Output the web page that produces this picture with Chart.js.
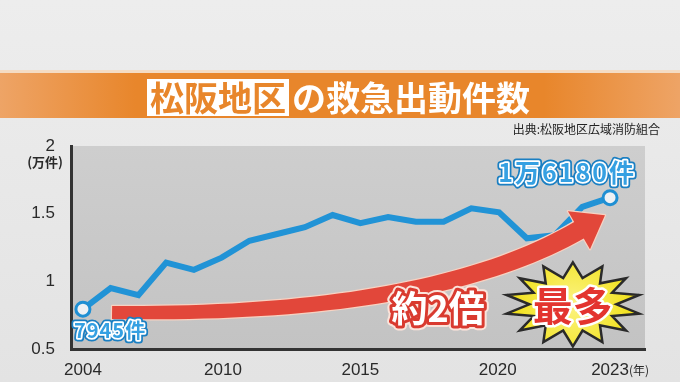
<!DOCTYPE html>
<html>
<head>
<meta charset="utf-8">
<script src="https://cdn.jsdelivr.net/npm/chart.js@4"></script>
<style>
  html, body { margin: 0; padding: 0; background: #e6e6e6; }
  canvas { display: block; }
</style>
</head>
<body>
<canvas id="chart" width="680" height="382"></canvas>
<script>
/* 松阪地区の救急出動件数 — line chart with TV-style decorations */

const YEARS = [2004, 2005, 2006, 2007, 2008, 2009, 2010, 2011, 2012, 2013,
               2014, 2015, 2016, 2017, 2018, 2019, 2020, 2021, 2022, 2023];
// 万件
const CALLS = [0.7945, 0.95, 0.898, 1.138, 1.085, 1.175, 1.30, 1.35, 1.40, 1.49,
               1.43, 1.475, 1.44, 1.44, 1.54, 1.51, 1.318, 1.34, 1.55, 1.618];
const Y_TICKS = [0.5, 1, 1.5, 2];
const X_TICK_LABELS = ['2004', '2010', '2015', '2020', '2023'];
const X_TICK_AT     = [2004, 2009.05, 2014, 2018.95, 2023];   // where the labels sit in the graphic
const FIRST_LABEL = '7945件';
const LAST_LABEL  = '1万6180件';

const JP = '"Noto Sans CJK JP", sans-serif';
const BLUE = '#2193d6';

function outlined(ctx, text, x, y, strokes, fill) {
  strokes.forEach(([c, w]) => { ctx.strokeStyle = c; ctx.lineWidth = w; ctx.strokeText(text, x, y); });
  ctx.fillStyle = fill; ctx.fillText(text, x, y);
}

const decor = {
  id: 'decor',
  beforeDraw(chart) {
    const { ctx, chartArea: a, width, height } = chart;
    ctx.save();
    // page background
    let g = ctx.createLinearGradient(0, 0, 0, height);
    g.addColorStop(0, '#ededed'); g.addColorStop(1, '#e3e3e3');
    ctx.fillStyle = g; ctx.fillRect(0, 0, width, height);

    // title band
    ctx.fillStyle = '#f4dcc4'; ctx.fillRect(0, 70, width, 3);
    g = ctx.createLinearGradient(0, 0, width, 0);
    g.addColorStop(0, '#eea466'); g.addColorStop(0.2, '#e8862b');
    g.addColorStop(0.8, '#e8862b'); g.addColorStop(1, '#eea466');
    ctx.fillStyle = g; ctx.fillRect(0, 73, width, 45);

    ctx.font = 'bold 34px ' + JP;
    ctx.textBaseline = 'middle'; ctx.textAlign = 'left';
    const t1 = '松阪地区', t2 = 'の救急出動件数';
    const w1 = ctx.measureText(t1).width, w2 = ctx.measureText(t2).width;
    const x0 = width / 2 - (w1 + 6 + w2) / 2;
    ctx.fillStyle = '#fff'; ctx.fillRect(x0 - 3, 79, w1 + 6, 37);
    ctx.fillStyle = '#e8862b'; ctx.fillText(t1, x0, 98);
    ctx.fillStyle = '#fff'; ctx.fillText(t2, x0 + w1 + 6, 98);

    // source
    ctx.font = '12px ' + JP; ctx.fillStyle = '#222'; ctx.textAlign = 'right';
    ctx.fillText('出典:松阪地区広域消防組合', 660, 129);

    // plot panel
    g = ctx.createLinearGradient(0, a.top, 0, a.bottom);
    g.addColorStop(0, '#cecece'); g.addColorStop(1, '#c3c3c3');
    ctx.fillStyle = g; ctx.fillRect(a.left, a.top, a.right - a.left, a.bottom - a.top);
    ctx.restore();
  },
  afterDatasetsDraw(chart) {
    const { ctx, scales: { x, y } } = chart;
    const px = (yr, v) => [x.getPixelForValue(yr), y.getPixelForValue(v)];
    ctx.save();

    // curved red arrow
    const P0 = px(2005.05, 0.77), C = px(2016.5, 0.74), P2 = px(2021.88, 1.378);
    const left = [], right = [], N = 40;
    for (let i = 0; i <= N; i++) {
      const t = i / N, u = 1 - t;
      const bx = u*u*P0[0] + 2*u*t*C[0] + t*t*P2[0];
      const by = u*u*P0[1] + 2*u*t*C[1] + t*t*P2[1];
      let dx = 2*u*(C[0]-P0[0]) + 2*t*(P2[0]-C[0]);
      let dy = 2*u*(C[1]-P0[1]) + 2*t*(P2[1]-C[1]);
      const len = Math.hypot(dx, dy); dx /= len; dy /= len;
      const hw = (13 + 6 * t) / 2;
      left.push([bx - dy*hw, by + dx*hw]); right.push([bx + dy*hw, by - dx*hw]);
    }
    let ex = P2[0] - C[0], ey = P2[1] - C[1];
    const el = Math.hypot(ex, ey); ex /= el; ey /= el;
    const tip = [P2[0] + ex*30, P2[1] + ey*30];
    const c1 = [P2[0] - ey*22, P2[1] + ex*22], c2 = [P2[0] + ey*22, P2[1] - ex*22];
    ctx.beginPath();
    ctx.moveTo(left[0][0], left[0][1]);
    left.forEach(p => ctx.lineTo(p[0], p[1]));
    ctx.lineTo(c1[0], c1[1]); ctx.lineTo(tip[0], tip[1]); ctx.lineTo(c2[0], c2[1]);
    right.slice().reverse().forEach(p => ctx.lineTo(p[0], p[1]));
    ctx.closePath();
    ctx.lineJoin = 'round';
    ctx.strokeStyle = '#f7d2c2'; ctx.lineWidth = 2.5; ctx.stroke();
    ctx.fillStyle = '#e2473a'; ctx.fill();

    // 約2倍
    ctx.textAlign = 'center'; ctx.textBaseline = 'middle'; ctx.lineJoin = 'round';
    ctx.font = 'bold 36px ' + JP;
    const m = px(2016.8, 0.80);
    outlined(ctx, '約2倍', m[0], m[1], [['#fbe3da', 10], ['#d93a2f', 6]], '#ffffff');

    // starburst
    const s = px(2021.66, 0.83);
    const spikes = 14;
    ctx.beginPath();
    for (let i = 0; i < spikes * 2; i++) {
      const ang = -Math.PI / 2 + i * Math.PI / spikes;
      const r = i % 2 === 0 ? 1 : 0.64;
      const px2 = s[0] + Math.cos(ang) * 68 * r, py2 = s[1] + Math.sin(ang) * 42 * r;
      i === 0 ? ctx.moveTo(px2, py2) : ctx.lineTo(px2, py2);
    }
    ctx.closePath();
    const sg = ctx.createRadialGradient(s[0], s[1], 5, s[0], s[1], 60);
    sg.addColorStop(0, '#fbf27a'); sg.addColorStop(1, '#f1e11a');
    ctx.fillStyle = sg; ctx.fill();
    ctx.strokeStyle = '#2a2a2a'; ctx.lineWidth = 2.5; ctx.lineJoin = 'miter'; ctx.stroke();
    ctx.lineJoin = 'round';
    ctx.font = 'bold 40px ' + JP;
    outlined(ctx, '最多', s[0], s[1] + 1, [['#ffffff', 5]], '#e3342f');

    // end labels
    ctx.font = 'bold 20px ' + JP; ctx.textAlign = 'left';
    ctx.letterSpacing = '1px';
    const f = px(YEARS[0], CALLS[0]);
    outlined(ctx, FIRST_LABEL, f[0] - 9, f[1] + 21, [['#1b7fc2', 7], ['#ffffff', 3.5]], '#35a0e2');
    ctx.font = 'bold 25px ' + JP; ctx.textAlign = 'center';
    ctx.letterSpacing = '2px';
    const l = px(YEARS[YEARS.length - 1], CALLS[CALLS.length - 1]);
    outlined(ctx, LAST_LABEL, l[0] - 43, l[1] - 25, [['#1b7fc2', 7], ['#ffffff', 3.5]], '#35a0e2');
    ctx.letterSpacing = '0px';

    // unit labels
    ctx.fillStyle = '#2a2a2a'; ctx.font = 'bold 13px ' + JP;
    ctx.textAlign = 'right';
    ctx.fillText('(万件)', 63, y.getPixelForValue(2) + 16);
    ctx.textAlign = 'left'; ctx.font = '12px ' + JP;
    ctx.fillText('(年)', x.getPixelForValue(2023) + 19, x.bottom - 12);
    ctx.restore();
  }
};

new Chart(document.getElementById('chart'), {
  type: 'line',
  data: {
    datasets: [{
      data: YEARS.map((yr, i) => ({ x: yr, y: CALLS[i] })),
      borderColor: BLUE,
      borderWidth: 6,
      tension: 0,
      pointRadius: c => (c.dataIndex === 0 || c.dataIndex === YEARS.length - 1) ? 7 : 0,
      pointBackgroundColor: '#eef1f4',
      pointBorderColor: '#1f8fd3',
      pointBorderWidth: 3,
    }],
  },
  options: {
    responsive: false,
    animation: false,
    layout: { padding: { top: 146, right: 35, left: 0, bottom: 0 } },
    plugins: { legend: { display: false }, tooltip: { enabled: false } },
    scales: {
      x: {
        type: 'linear', min: 2003.57, max: 2024.26,
        afterFit: s => { s.height = 33; },
        afterBuildTicks: s => { s.ticks = X_TICK_AT.map(v => ({ value: v })); },
        ticks: {
          callback: (v, i) => X_TICK_LABELS[i],
          color: '#2a2a2a', font: { family: '"Liberation Sans"', size: 17 },
          padding: 3, maxRotation: 0, autoSkip: false,
        },
        grid: { display: false },
        border: { color: '#333', width: 3 },
      },
      y: {
        min: 0.5, max: 2,
        afterFit: s => { s.width = 71; },
        afterBuildTicks: s => { s.ticks = Y_TICKS.map(v => ({ value: v })); },
        ticks: {
          callback: v => String(v),
          color: '#2a2a2a', font: { family: '"Liberation Sans"', size: 17 },
          padding: 8,
        },
        grid: { display: false },
        border: { color: '#333', width: 3 },
      },
    },
  },
  plugins: [decor],
});
</script>
</body>
</html>
